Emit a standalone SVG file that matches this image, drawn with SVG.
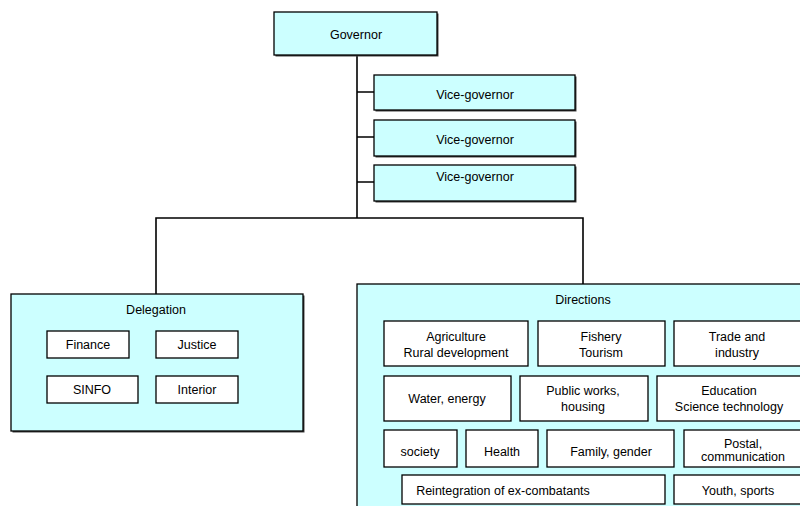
<svg xmlns="http://www.w3.org/2000/svg" width="800" height="506" viewBox="0 0 800 506">
  <defs>
    <style>
      .box { fill: #ccffff; stroke: #000; stroke-width: 1.3; }
      .sub { fill: #ffffff; stroke: #000; stroke-width: 1.3; }
      .shadow { fill: #444; }
      .wire { fill: none; stroke: #000; stroke-width: 1.6; }
      text { font-family: "Liberation Sans", Arial, sans-serif; font-size: 12.5px; fill: #000; text-anchor: middle; }
    </style>
  </defs>
  <rect width="800" height="506" fill="#ffffff"/>

  <!-- connectors -->
  <g id="connectors">
    <path class="wire" d="M357 55 V218"/>
    <path class="wire" d="M357 92 H374 M357 137 H374 M357 182 H374"/>
    <path class="wire" d="M156 294 V218 H583 V284"/>
  </g>

  <!-- top level -->
  <g id="governor">
    <rect class="shadow" x="275.5" y="13.5" width="163" height="43"/>
    <rect class="box" x="274" y="12" width="163" height="43"/>
    <text x="356" y="38.5">Governor</text>
  </g>
  <g id="vice-governor-1">
    <rect class="shadow" x="375.5" y="76.5" width="201" height="35"/>
    <rect class="box" x="374" y="75" width="201" height="35"/>
    <text x="475" y="98.5">Vice-governor</text>
  </g>
  <g id="vice-governor-2">
    <rect class="shadow" x="375.5" y="121.5" width="201" height="36"/>
    <rect class="box" x="374" y="120" width="201" height="36"/>
    <text x="475" y="143.5">Vice-governor</text>
  </g>
  <g id="vice-governor-3">
    <rect class="shadow" x="375.5" y="166.5" width="201" height="36"/>
    <rect class="box" x="374" y="165" width="201" height="36"/>
    <text x="475" y="181">Vice-governor</text>
  </g>

  <!-- delegation -->
  <g id="delegation">
    <rect class="shadow" x="12.5" y="295.5" width="292" height="137"/>
    <rect class="box" x="11" y="294" width="292" height="137"/>
    <text x="156" y="313.5">Delegation</text>
  </g>
  <g id="finance">
    <rect class="sub" x="47" y="331" width="82" height="27"/>
    <text x="88" y="348.5">Finance</text>
  </g>
  <g id="justice">
    <rect class="sub" x="156" y="331" width="82" height="27"/>
    <text x="197" y="348.5">Justice</text>
  </g>
  <g id="sinfo">
    <rect class="sub" x="47" y="376" width="91" height="27"/>
    <text x="92" y="394">SINFO</text>
  </g>
  <g id="interior">
    <rect class="sub" x="156" y="376" width="82" height="27"/>
    <text x="197" y="394">Interior</text>
  </g>

  <!-- directions -->
  <g id="directions">
    <rect class="box" x="357" y="284" width="460" height="240"/>
    <text x="583" y="303.5">Directions</text>
  </g>
  <g id="agriculture">
    <rect class="sub" x="384" y="321" width="144" height="45"/>
    <text x="456" y="341">Agriculture</text>
    <text x="456" y="357">Rural development</text>
  </g>
  <g id="fishery">
    <rect class="sub" x="538" y="321" width="127" height="45"/>
    <text x="601" y="341">Fishery</text>
    <text x="601" y="357">Tourism</text>
  </g>
  <g id="trade">
    <rect class="sub" x="674" y="321" width="140" height="45"/>
    <text x="737" y="341">Trade and</text>
    <text x="737" y="357">industry</text>
  </g>
  <g id="water">
    <rect class="sub" x="384" y="376" width="127" height="45"/>
    <text x="447" y="403">Water, energy</text>
  </g>
  <g id="public-works">
    <rect class="sub" x="520" y="376" width="128" height="45"/>
    <text x="583" y="394.5">Public works,</text>
    <text x="583" y="411">housing</text>
  </g>
  <g id="education">
    <rect class="sub" x="657" y="376" width="160" height="45"/>
    <text x="729" y="394.5">Education</text>
    <text x="729" y="411">Science technology</text>
  </g>
  <g id="society">
    <rect class="sub" x="384" y="430" width="73" height="37"/>
    <text x="420" y="455.5">society</text>
  </g>
  <g id="health">
    <rect class="sub" x="466" y="430" width="72" height="37"/>
    <text x="502" y="455.5">Health</text>
  </g>
  <g id="family">
    <rect class="sub" x="547" y="430" width="127" height="37"/>
    <text x="611" y="455.5">Family, gender</text>
  </g>
  <g id="postal">
    <rect class="sub" x="684" y="430" width="130" height="37"/>
    <text x="743" y="447.5">Postal,</text>
    <text x="743" y="461">communication</text>
  </g>
  <g id="reintegration">
    <rect class="sub" x="402" y="475" width="263" height="29"/>
    <text x="503" y="495">Reintegration of ex-combatants</text>
  </g>
  <g id="youth">
    <rect class="sub" x="674" y="475" width="140" height="29"/>
    <text x="738" y="495">Youth, sports</text>
  </g>
</svg>
